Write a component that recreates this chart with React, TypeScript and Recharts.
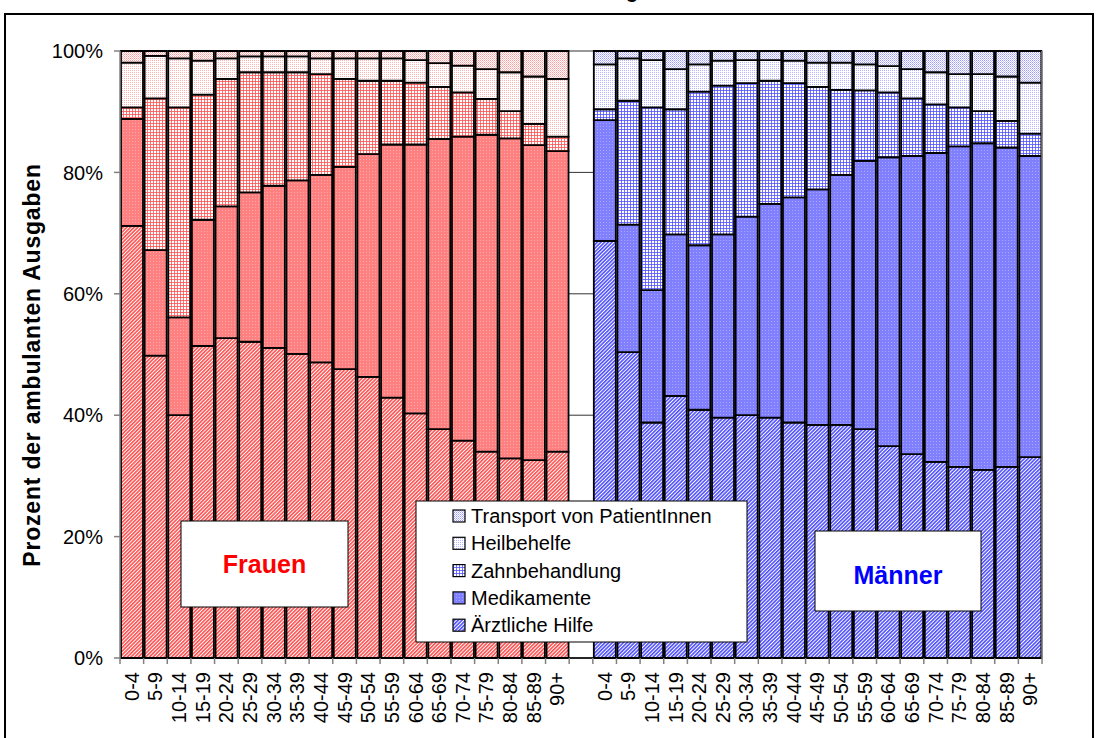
import { BarChart, Bar, XAxis, YAxis, CartesianGrid, Cell } from "recharts";

const ageGroups = [
  "0-4", "5-9", "10-14", "15-19", "20-24", "25-29", "30-34", "35-39", "40-44", "45-49",
  "50-54", "55-59", "60-64", "65-69", "70-74", "75-79", "80-84", "85-89", "90+",
];

// Frauen, Anteile in %
const frauenAerztlich = [71.2, 49.8, 40.0, 51.4, 52.7, 52.1, 51.1, 50.1, 48.7, 47.6, 46.3, 42.9, 40.3, 37.7, 35.8, 34.0, 32.9, 32.6, 34.0];
const frauenMedikamente = [17.6, 17.4, 16.1, 20.8, 21.7, 24.6, 26.7, 28.6, 30.9, 33.3, 36.7, 41.7, 44.3, 47.8, 50.1, 52.2, 52.7, 51.9, 49.5];
const frauenZahn = [1.9, 25.0, 34.6, 20.6, 21.0, 19.8, 18.7, 17.8, 16.6, 14.5, 12.1, 10.5, 10.2, 8.6, 7.3, 5.9, 4.5, 3.5, 2.4];
const frauenHeilbehelfe = [7.4, 7.0, 8.1, 5.6, 3.4, 2.6, 2.6, 2.6, 2.6, 3.4, 3.7, 3.7, 3.7, 3.9, 4.4, 4.9, 6.4, 7.8, 9.5];
const frauenTransport = [1.9, 0.8, 1.2, 1.6, 1.2, 0.9, 0.9, 0.9, 1.2, 1.2, 1.2, 1.2, 1.5, 2.0, 2.4, 3.0, 3.5, 4.2, 4.6];

// Männer, Anteile in %
const maennerAerztlich = [68.7, 50.4, 38.8, 43.2, 40.9, 39.6, 40.0, 39.6, 38.8, 38.4, 38.4, 37.7, 34.9, 33.6, 32.3, 31.5, 31.0, 31.5, 33.1];
const maennerMedikamente = [19.9, 21.0, 21.8, 26.6, 27.1, 30.2, 32.7, 35.2, 37.1, 38.8, 41.2, 44.2, 47.6, 49.1, 50.9, 52.8, 53.8, 52.6, 49.6];
const maennerZahn = [1.8, 20.4, 30.1, 20.6, 25.3, 24.5, 22.0, 20.3, 18.8, 16.9, 14.0, 11.6, 10.7, 9.5, 8.0, 6.4, 5.3, 4.4, 3.7];
const maennerHeilbehelfe = [7.4, 7.0, 7.8, 6.6, 4.5, 4.1, 3.8, 3.4, 3.7, 4.0, 4.5, 4.3, 4.3, 4.8, 5.3, 5.5, 6.1, 7.3, 8.4];
const maennerTransport = [2.2, 1.2, 1.5, 3.0, 2.2, 1.6, 1.5, 1.5, 1.6, 1.9, 1.9, 2.2, 2.5, 3.0, 3.5, 3.8, 3.8, 4.2, 5.2];

const legendItems = [
  { key: "t", name: "Transport von PatientInnen" },
  { key: "h", name: "Heilbehelfe" },
  { key: "z", name: "Zahnbehandlung" },
  { key: "m", name: "Medikamente" },
  { key: "a", name: "Ärztliche Hilfe" },
];

const yTicks = [0, 0.2, 0.4, 0.6, 0.8, 1];

type Row = { key: string; age: string; g: string; a: number; m: number; z: number; h: number; t: number };

const rows: Row[] = [
  ...ageGroups.map((age, i) => ({
    key: "F" + age, age, g: "f",
    a: frauenAerztlich[i], m: frauenMedikamente[i], z: frauenZahn[i], h: frauenHeilbehelfe[i], t: frauenTransport[i],
  })),
  { key: "gap", age: "", g: "gap", a: 0, m: 0, z: 0, h: 0, t: 0 },
  ...ageGroups.map((age, i) => ({
    key: "M" + age, age, g: "m",
    a: maennerAerztlich[i], m: maennerMedikamente[i], z: maennerZahn[i], h: maennerHeilbehelfe[i], t: maennerTransport[i],
  })),
];

const FONT = "Arial, 'Liberation Sans', sans-serif";
const PLOT_W = 1096 - 120 - 54;
const BAND = PLOT_W / rows.length;

const colors = {
  red: { base: "#FF8080", dark: "#FF5050", light: "#FFA8A8", dot: "#FF9A9A" },
  blue: { base: "#8080FF", dark: "#5050FF", light: "#A8A8FF", dot: "#9A9AFF" },
};

function Patterns() {
  return (
    <svg width={0} height={0} style={{ position: "absolute" }}>
      <defs>
        {(["red", "blue"] as const).map((c) => {
          const p = colors[c];
          return [
            <pattern key={"a" + c} id={"a-" + c} width={2.6} height={2.6} patternUnits="userSpaceOnUse" patternTransform="rotate(45)">
              <rect width={2.6} height={2.6} fill="#FFFFFF" />
              <rect width={1.6} height={2.6} fill={p.dark} />
            </pattern>,
            <pattern key={"m" + c} id={"m-" + c} width={3} height={3} patternUnits="userSpaceOnUse">
              <rect width={3} height={3} fill={p.base} />
              <rect width={1} height={1} fill={p.light} />
            </pattern>,
            <pattern key={"z" + c} id={"z-" + c} width={3} height={3} patternUnits="userSpaceOnUse">
              <rect width={3} height={3} fill="#FFFFFF" />
              <rect width={3} height={1} fill={p.dark} opacity={0.8} />
              <rect width={1} height={3} fill={p.dark} opacity={0.8} />
            </pattern>,
            <pattern key={"h" + c} id={"h-" + c} width={2} height={2} patternUnits="userSpaceOnUse">
              <rect width={2} height={2} fill="#FFFFFF" />
              <rect width={1} height={1} fill={p.dot} opacity={0.75} />
            </pattern>,
            <pattern key={"t" + c} id={"t-" + c} width={2} height={2} patternUnits="userSpaceOnUse">
              <rect width={2} height={2} fill="#FFFFFF" />
              <rect width={1} height={1} fill={p.dot} />
              <rect x={1} y={1} width={1} height={1} fill={p.dot} opacity={0.6} />
            </pattern>,
          ];
        })}
      </defs>
    </svg>
  );
}

function AgeTick(props: any) {
  const { x, y, index } = props;
  const r = rows[index];
  const half = BAND / 2;
  const ty = y + 14;
  return (
    <g>
      <line x1={x - half} x2={x - half} y1={y} y2={y + 6} stroke="#808080" strokeWidth={1.5} />
      {index === rows.length - 1 && (
        <line x1={x + half} x2={x + half} y1={y} y2={y + 6} stroke="#808080" strokeWidth={1.5} />
      )}
      {r && r.age && (
        <text x={x} y={ty} transform={`rotate(-90 ${x} ${ty})`} textAnchor="end" dy="0.35em" fontSize={20} fontFamily={FONT} fill="#000">
          {r.age}
        </text>
      )}
    </g>
  );
}

const fillFor = (k: string, g: string) => `url(#${k}-${g === "m" ? "blue" : "red"})`;

export default function App() {
  return (
    <div style={{ position: "absolute", left: 0, top: 0, width: 1096, height: 738, background: "#fff" }}>
      <Patterns />
      <BarChart
        width={1096}
        height={738}
        data={rows}
        stackOffset="expand"
        barCategoryGap={1}
        margin={{ top: 51, right: 54, bottom: 0, left: 0 }}
      >
        <CartesianGrid vertical={false} stroke="#333" strokeWidth={1} />
        <XAxis
          dataKey="key"
          interval={0}
          tick={<AgeTick />}
          tickLine={false}
          tickSize={0}
          tickMargin={0}
          height={80}
          axisLine={{ stroke: "#000", strokeWidth: 1.5 }}
        />
        <YAxis
          width={120}
          domain={[0, 1]}
          ticks={yTicks}
          tickFormatter={(v: number) => Math.round(v * 100) + "%"}
          tick={{ fontSize: 20, fill: "#000", fontFamily: FONT }}
          tickSize={6}
          tickMargin={11}
          axisLine={{ stroke: "#808080", strokeWidth: 1.5 }}
          tickLine={{ stroke: "#808080", strokeWidth: 1.5 }}
        />
        {(["a", "m", "z", "h", "t"] as const).map((k) => (
          <Bar key={k} dataKey={k} stackId="s" stroke="#000" strokeWidth={1.8} isAnimationActive={false}>
            {rows.map((r) => (
              <Cell key={r.key} fill={fillFor(k, r.g)} />
            ))}
          </Bar>
        ))}
      </BarChart>
      <svg width={1096} height={738} style={{ position: "absolute", left: 0, top: 0, pointerEvents: "none" }}>
        <text x={632} y={-2} fontSize={20} fontWeight="bold" fontFamily={FONT} textAnchor="middle">g</text>
        <line x1={1042} x2={1042} y1={51} y2={658} stroke="#808080" strokeWidth={1.5} />
        <rect x={5} y={14} width={1088} height={740} fill="none" stroke="#000" strokeWidth={2} />
        <text
          x={32}
          y={365}
          transform="rotate(-90 32 365)"
          textAnchor="middle"
          dy="0.35em"
          fontSize={23}
          letterSpacing={0.8}
          fontWeight="bold"
          fontFamily={FONT}
        >
          Prozent der ambulanten Ausgaben
        </text>
        <rect x={181} y={521} width={167} height={86} fill="#fff" stroke="#000" strokeWidth={1} />
        <text x={264.5} y={564} textAnchor="middle" dy="0.35em" fontSize={25} fontWeight="bold" fill="#FF0000" fontFamily={FONT}>
          Frauen
        </text>
        <rect x={815} y={531} width={166} height={80} fill="#fff" stroke="#000" strokeWidth={1} />
        <text x={898} y={575} textAnchor="middle" dy="0.35em" fontSize={25} fontWeight="bold" fill="#0000FF" fontFamily={FONT}>
          Männer
        </text>
        <rect x={416} y={501} width={331} height={141} fill="#fff" stroke="#000" strokeWidth={1} />
        {legendItems.map((it, i) => {
          const cy = 516 + i * 27.3;
          return (
            <g key={it.key}>
              <rect x={453} y={cy - 6} width={12} height={12} fill={`url(#${it.key}-blue)`} stroke="#000" strokeWidth={1.2} />
              <text x={471} y={cy} dy="0.35em" fontSize={20} fontFamily={FONT} fill="#000">
                {it.name}
              </text>
            </g>
          );
        })}
      </svg>
    </div>
  );
}
